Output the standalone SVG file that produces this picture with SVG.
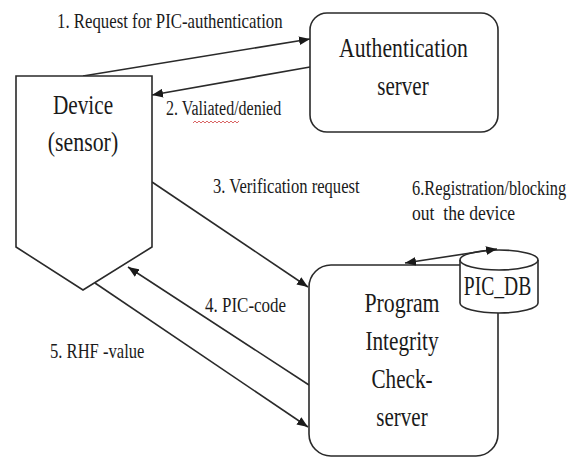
<svg xmlns="http://www.w3.org/2000/svg" width="572" height="458" viewBox="0 0 572 458">
  <style>
    .shape { fill: #ffffff; stroke: #2a2a2a; stroke-width: 1.6; }
    .link { fill: none; stroke: #2a2a2a; stroke-width: 1.6; }
    .node-text { font-family: "Liberation Serif", "Times New Roman", serif; font-size: 28px; fill: #1a1a1a; text-anchor: middle; }
    .label { font-family: "Liberation Serif", "Times New Roman", serif; font-size: 20px; fill: #1a1a1a; }
  </style>
  <defs>
    <marker id="arrow" viewBox="0 0 10 8" refX="10" refY="4" markerWidth="11" markerHeight="9" markerUnits="userSpaceOnUse" orient="auto-start-reverse">
      <path d="M0,0 L10,4 L0,8 Z" fill="#1a1a1a"/>
    </marker>
  </defs>

  <rect width="572" height="458" fill="#ffffff"/>

  <!-- Connectors -->
  <g id="connectors">
    <line class="link" x1="83" y1="76" x2="310" y2="39" marker-end="url(#arrow)"/>
    <line class="link" x1="310" y1="67" x2="152" y2="95" marker-end="url(#arrow)"/>
    <line class="link" x1="152" y1="182" x2="308" y2="287" marker-end="url(#arrow)"/>
    <line class="link" x1="309" y1="385" x2="128" y2="267" marker-end="url(#arrow)"/>
    <line class="link" x1="95" y1="283" x2="308" y2="427" marker-end="url(#arrow)"/>
  </g>

  <!-- Device (sensor); texts narrowed horizontally -->
  <g id="device">
    <polygon class="shape" points="16,76 152,76 152,247 83,290 16,247"/>
    <text class="node-text" transform="translate(83,114) scale(0.76,1)">Device</text>
    <text class="node-text" transform="translate(83,151) scale(0.78,1)">(sensor)</text>
  </g>

  <!-- Authentication server -->
  <g id="auth-server">
    <rect class="shape" x="310" y="13" width="188" height="119" rx="17" ry="17"/>
    <text class="node-text" transform="translate(403.5,57) scale(0.775,1)">Authentication</text>
    <text class="node-text" transform="translate(403,95) scale(0.75,1)">server</text>
  </g>

  <!-- Program Integrity Check-server -->
  <g id="pic-server">
    <rect class="shape" x="309" y="265" width="189" height="191" rx="22" ry="22"/>
    <text class="node-text" transform="translate(402,312) scale(0.78,1)">Program</text>
    <text class="node-text" transform="translate(402,350) scale(0.76,1)">Integrity</text>
    <text class="node-text" transform="translate(402,388) scale(0.755,1)">Check-</text>
    <text class="node-text" transform="translate(402,426) scale(0.75,1)">server</text>
  </g>

  <!-- PIC_DB database -->
  <g id="pic-db">
    <path class="shape" d="M460,260 L460,303 A39,10 0 0 0 538,303 L538,260 A39,10 0 0 0 460,260 Z"/>
    <path class="link" d="M460,260 A39,10 0 0 0 538,260"/>
    <text class="node-text" font-size="27" transform="translate(497.5,295) scale(0.7,1)">PIC_DB</text>
  </g>

  <!-- Registration link between server and database -->
  <g id="registration-link">
    <line class="link" x1="405" y1="263" x2="497" y2="249" marker-start="url(#arrow)" marker-end="url(#arrow)"/>
  </g>

  <!-- Message labels, narrowed horizontally -->
  <g id="labels">
    <text class="label" transform="translate(57,28) scale(0.84,1)">1. Request for PIC-authentication</text>
    <text class="label" transform="translate(166,115) scale(0.8,1)">2. Valiated/denied</text>
    <path d="M193,123 l2,-2 l2,2 l2,-2 l2,2 l2,-2 l2,2 l2,-2 l2,2 l2,-2 l2,2 l2,-2 l2,2 l2,-2 l2,2 l2,-2 l2,2 l2,-2 l2,2 l2,-2 l2,2 l2,-2 l2,2 l2,-2" fill="none" stroke="#d04040" stroke-width="0.8"/>
    <text class="label" transform="translate(213,193) scale(0.83,1)">3. Verification request</text>
    <text class="label" transform="translate(205,312) scale(0.85,1)">4. PIC-code</text>
    <text class="label" transform="translate(50,358) scale(0.83,1)">5. RHF -value</text>
    <text class="label" transform="translate(412,195) scale(0.82,1)">6.Registration/blocking</text>
    <text class="label" transform="translate(412,220) scale(0.88,1)" xml:space="preserve">out  the device</text>
  </g>
</svg>
